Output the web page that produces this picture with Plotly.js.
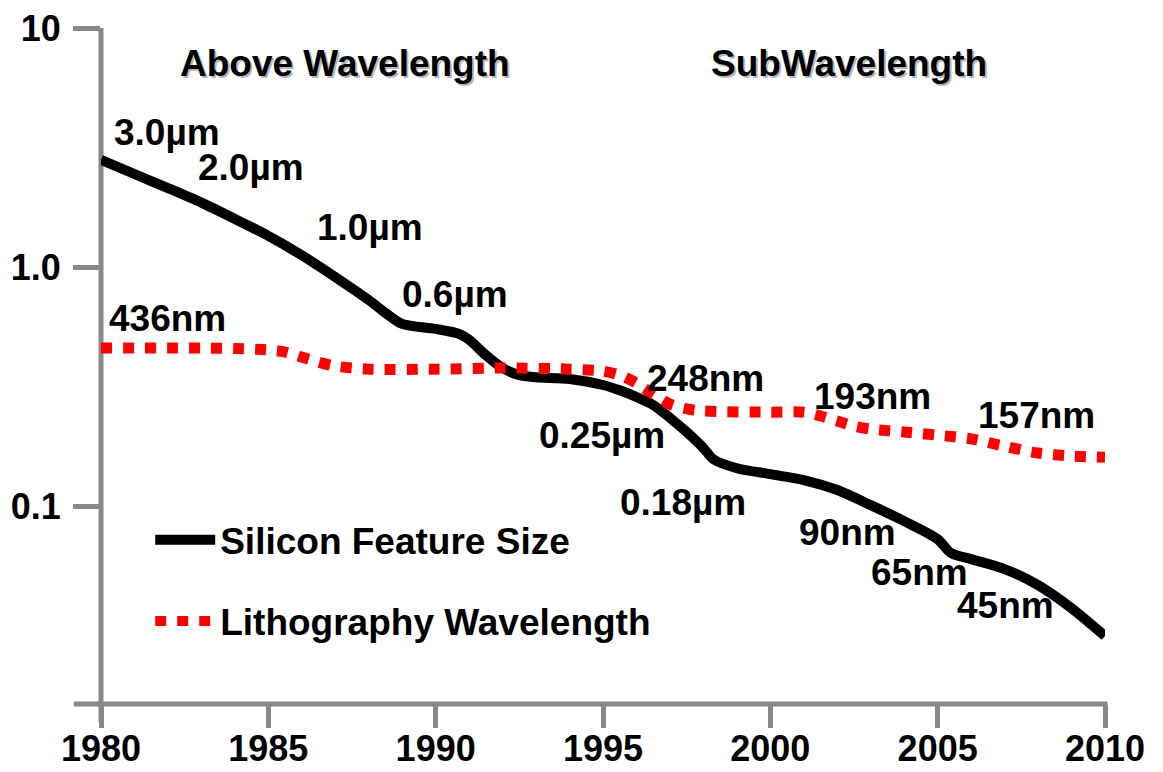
<!DOCTYPE html>
<html>
<head>
<meta charset="utf-8">
<script src="https://cdn.plot.ly/plotly-3.0.1.min.js"></script>
<style>
  html, body { margin: 0; padding: 0; background: #ffffff; }
  #chart { width: 1163px; height: 772px; }
</style>
</head>
<body>
<div id="chart"></div>
<script>
// ---- Data ----
const featureYears = [1980, 1981, 1982, 1983, 1984, 1985, 1986, 1987, 1988, 1988.5, 1989, 1990, 1990.7, 1991, 1991.5, 1992, 1992.5, 1993, 1994, 1995, 1995.5, 1996, 1996.5, 1997, 1997.5, 1998, 1998.3, 1999, 2000, 2001, 2002, 2003, 2004, 2005, 2005.4, 2006, 2007, 2008, 2009, 2010];
const featureSize = [2.81, 2.45, 2.14, 1.86, 1.59, 1.35, 1.12, 0.908, 0.728, 0.643, 0.578, 0.551, 0.525, 0.496, 0.428, 0.378, 0.353, 0.346, 0.340, 0.321, 0.305, 0.286, 0.265, 0.234, 0.204, 0.175, 0.157, 0.144, 0.136, 0.1285, 0.1167, 0.1009, 0.0865, 0.0727, 0.0636, 0.0600, 0.0545, 0.0467, 0.0374, 0.0286];

const litoYears = [1980, 1981, 1982, 1983, 1984, 1985, 1985.5, 1986, 1986.5, 1987, 1988, 1990, 1992, 1994, 1995, 1995.5, 1996, 1996.5, 1997, 1997.5, 1998, 2000, 2001, 2001.5, 2002, 2002.5, 2003, 2004, 2005, 2006, 2007, 2008, 2009, 2010];
const litoWavelength = [0.458, 0.458, 0.458, 0.458, 0.456, 0.450, 0.441, 0.420, 0.400, 0.385, 0.374, 0.374, 0.378, 0.374, 0.367, 0.353, 0.327, 0.294, 0.267, 0.255, 0.250, 0.247, 0.247, 0.238, 0.227, 0.216, 0.210, 0.204, 0.198, 0.191, 0.178, 0.1667, 0.162, 0.160];

const seriesNames = ["Silicon Feature Size", "Lithography Wavelength"];

const xTickVals = [1980, 1985, 1990, 1995, 2000, 2005, 2010];
const xTickText = ["1980", "1985", "1990", "1995", "2000", "2005", "2010"];
const yTickVals = [10, 1, 0.1];
const yTickText = ["10", "1.0", "0.1"];

// Node labels along the curves
const labelText = ["3.0\u00b5m", "2.0\u00b5m", "1.0\u00b5m", "0.6\u00b5m", "436nm", "248nm", "0.25\u00b5m", "193nm", "157nm", "0.18\u00b5m", "90nm", "65nm", "45nm"];
const labelYear = [1981.98, 1984.47, 1988.04, 1990.58, 1982.0, 1998.05, 1994.97, 2003.04, 2007.94, 1997.39, 2002.32, 2004.47, 2007.04];
const labelValue = [3.67, 2.60, 1.46, 0.764, 0.612, 0.343, 0.198, 0.286, 0.240, 0.104, 0.0778, 0.0525, 0.0385];

// Region headings
const regionText = ["Above Wavelength", "SubWavelength"];
const regionYear = [1987.29, 2002.35];
const regionValue = [7.07, 7.07];

// ---- Styles ----
const FONT = "'Liberation Sans', Arial, Helvetica, sans-serif";
const AXIS_GREY = "#888888";

const traces = [
  {
    x: featureYears, y: featureSize, name: seriesNames[0],
    type: "scatter", mode: "lines",
    line: { color: "#000000", width: 10, shape: "spline", smoothing: 0.8 },
    legendgroup: "a"
  },
  {
    x: litoYears, y: litoWavelength, name: seriesNames[1],
    type: "scatter", mode: "lines",
    line: { color: "#ff0000", width: 11, dash: "11px,11px", shape: "spline", smoothing: 0.8 },
    legendgroup: "b"
  }
];

const annotations = [];
for (let i = 0; i < regionText.length; i++) {
  // soft shadow
  annotations.push({
    x: regionYear[i], y: Math.log10(regionValue[i]), xref: "x", yref: "y",
    text: "<b>" + regionText[i] + "</b>", showarrow: false,
    xshift: 2, yshift: -2,
    font: { family: FONT, size: 37, color: "rgba(0,0,0,0.28)" }
  });
  annotations.push({
    x: regionYear[i], y: Math.log10(regionValue[i]), xref: "x", yref: "y",
    text: "<b>" + regionText[i] + "</b>", showarrow: false,
    font: { family: FONT, size: 37, color: "#000000" }
  });
}
for (let i = 0; i < labelText.length; i++) {
  annotations.push({
    x: labelYear[i], y: Math.log10(labelValue[i]), xref: "x", yref: "y",
    text: "<b>" + labelText[i] + "</b>", showarrow: false,
    font: { family: FONT, size: 37, color: "#000000" }
  });
}

const layout = {
  width: 1163, height: 772,
  paper_bgcolor: "#ffffff", plot_bgcolor: "#ffffff",
  margin: { l: 101, r: 58, t: 28, b: 68, pad: 0 },
  showlegend: true,
  legend: {
    x: 0.049, y: 0.288, xanchor: "left", yanchor: "top",
    bgcolor: "rgba(0,0,0,0)", borderwidth: 0,
    traceorder: "grouped", tracegroupgap: 30,
    itemwidth: 60,
    font: { family: FONT, size: 37, color: "#000000", weight: "bold" }
  },
  xaxis: {
    type: "linear", range: [1980, 2010],
    tickmode: "array", tickvals: xTickVals, ticktext: xTickText,
    ticks: "outside", ticklen: 23, tickwidth: 5, tickcolor: AXIS_GREY,
    ticklabelstandoff: -10,
    showline: false, showgrid: false, zeroline: false,
    tickfont: { family: FONT, size: 36, color: "#000000", weight: "bold" },
    fixedrange: true
  },
  yaxis: {
    type: "log", range: [Math.log10(0.01486), 1],
    tickmode: "array", tickvals: yTickVals, ticktext: yTickText,
    ticks: "outside", ticklen: 27, tickwidth: 5, tickcolor: AXIS_GREY,
    ticklabelstandoff: 5,
    showline: false, showgrid: false, zeroline: false,
    tickfont: { family: FONT, size: 36, color: "#000000", weight: "bold" },
    fixedrange: true
  },
  shapes: [
    { type: "line", xref: "paper", yref: "paper", x0: 0, x1: 0, y0: 1, y1: -0.0266,
      line: { color: AXIS_GREY, width: 5 }, layer: "below" },
    { type: "line", xref: "paper", yref: "paper", x0: -0.0269, x1: 1.0025, y0: 0, y1: 0,
      line: { color: AXIS_GREY, width: 5 }, layer: "below" }
  ],
  annotations: annotations
};

Plotly.newPlot("chart", traces, layout, { displayModeBar: false, staticPlot: true });
</script>
</body>
</html>
